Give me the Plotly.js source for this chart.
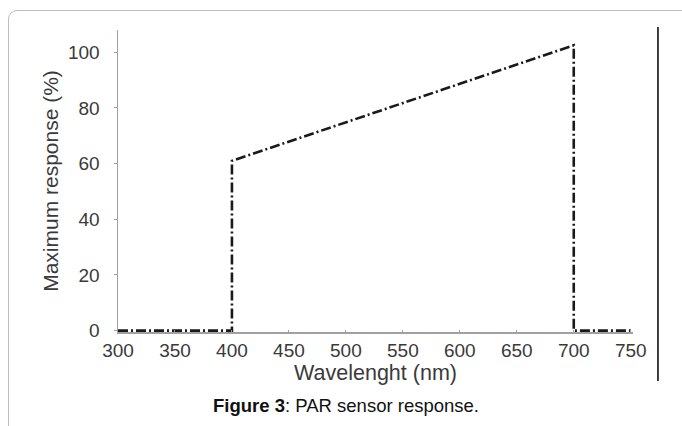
<!DOCTYPE html>
<html>
<head>
<meta charset="utf-8">
<script src="https://cdn.plot.ly/plotly-3.0.1.min.js"></script>
<style>
  html, body { margin: 0; padding: 0; background: #fff; }
  #wrap { position: relative; width: 682px; height: 426px; overflow: hidden; }
  #frame { position: absolute; left: 8px; top: 10px; width: 720px; height: 460px;
           border: 1px solid #bdbdbd; border-radius: 9px; box-sizing: border-box; }
  #chart { position: absolute; left: 0; top: 0; width: 682px; height: 426px; }
</style>
</head>
<body>
<div id="wrap">
  <div id="frame"></div>
  <div id="chart"></div>
</div>
<script>
// Data
const wavelength = [300, 400, 400, 700, 700, 750];
const response   = [0,   0,   61,  102.5, 0,  0];
const xTicks = [300, 350, 400, 450, 500, 550, 600, 650, 700, 750];
const yTicks = [0, 20, 40, 60, 80, 100];
const xTitle = 'Wavelenght (nm)';
const yTitle = 'Maximum response (%)';
const caption = '<b>Figure 3</b>: PAR sensor response.';

const trace = {
  x: wavelength,
  y: response,
  type: 'scatter',
  mode: 'lines',
  line: { color: '#1a1a1a', width: 2.6, dash: '10px,3px,2px,3px' },
  cliponaxis: false,
  hoverinfo: 'skip'
};

const font = 'Liberation Sans, Arial, Helvetica, sans-serif';

const layout = {
  width: 682, height: 426,
  margin: { l: 118, r: 49, t: 30, b: 94 },
  paper_bgcolor: 'rgba(0,0,0,0)',
  plot_bgcolor: 'rgba(0,0,0,0)',
  showlegend: false,
  font: { family: font, color: '#333' },
  xaxis: {
    range: [300, 752],
    tickvals: xTicks,
    ticktext: xTicks.map(String),
    showgrid: false, zeroline: false,
    showline: true, linecolor: '#a0a0a0', linewidth: 1.5,
    ticks: 'inside', ticklen: 2, tickcolor: '#a0a0a0',
    ticklabelstandoff: 1,
    tickfont: { size: 19, color: '#3a3a3a' },
    title: { text: xTitle, font: { size: 21.5, color: '#3a3a3a' }, standoff: 2 }
  },
  yaxis: {
    range: [-0.5, 108],
    tickvals: yTicks,
    ticktext: yTicks.map(String),
    showgrid: false, zeroline: false,
    showline: true, linecolor: '#a0a0a0', linewidth: 1.5,
    ticks: 'outside', ticklen: 3, tickcolor: '#a0a0a0',
    ticklabelstandoff: 10,
    tickfont: { size: 19, color: '#3a3a3a' },
    title: { text: yTitle, font: { size: 21, color: '#3a3a3a' }, standoff: 3 }
  },
  shapes: [{
    type: 'line', xref: 'paper', yref: 'paper',
    x0: 1.0485, x1: 1.0485, y0: -0.162, y1: 1.01,
    line: { color: '#000', width: 1.5 }
  }],
  annotations: [{
    text: caption, showarrow: false,
    xref: 'paper', yref: 'paper', x: 0.443, y: -0.245,
    xanchor: 'center', yanchor: 'middle',
    font: { family: font, size: 18.5, color: '#111' }
  }]
};

Plotly.newPlot('chart', [trace], layout, { displayModeBar: false, staticPlot: true });
</script>
</body>
</html>
